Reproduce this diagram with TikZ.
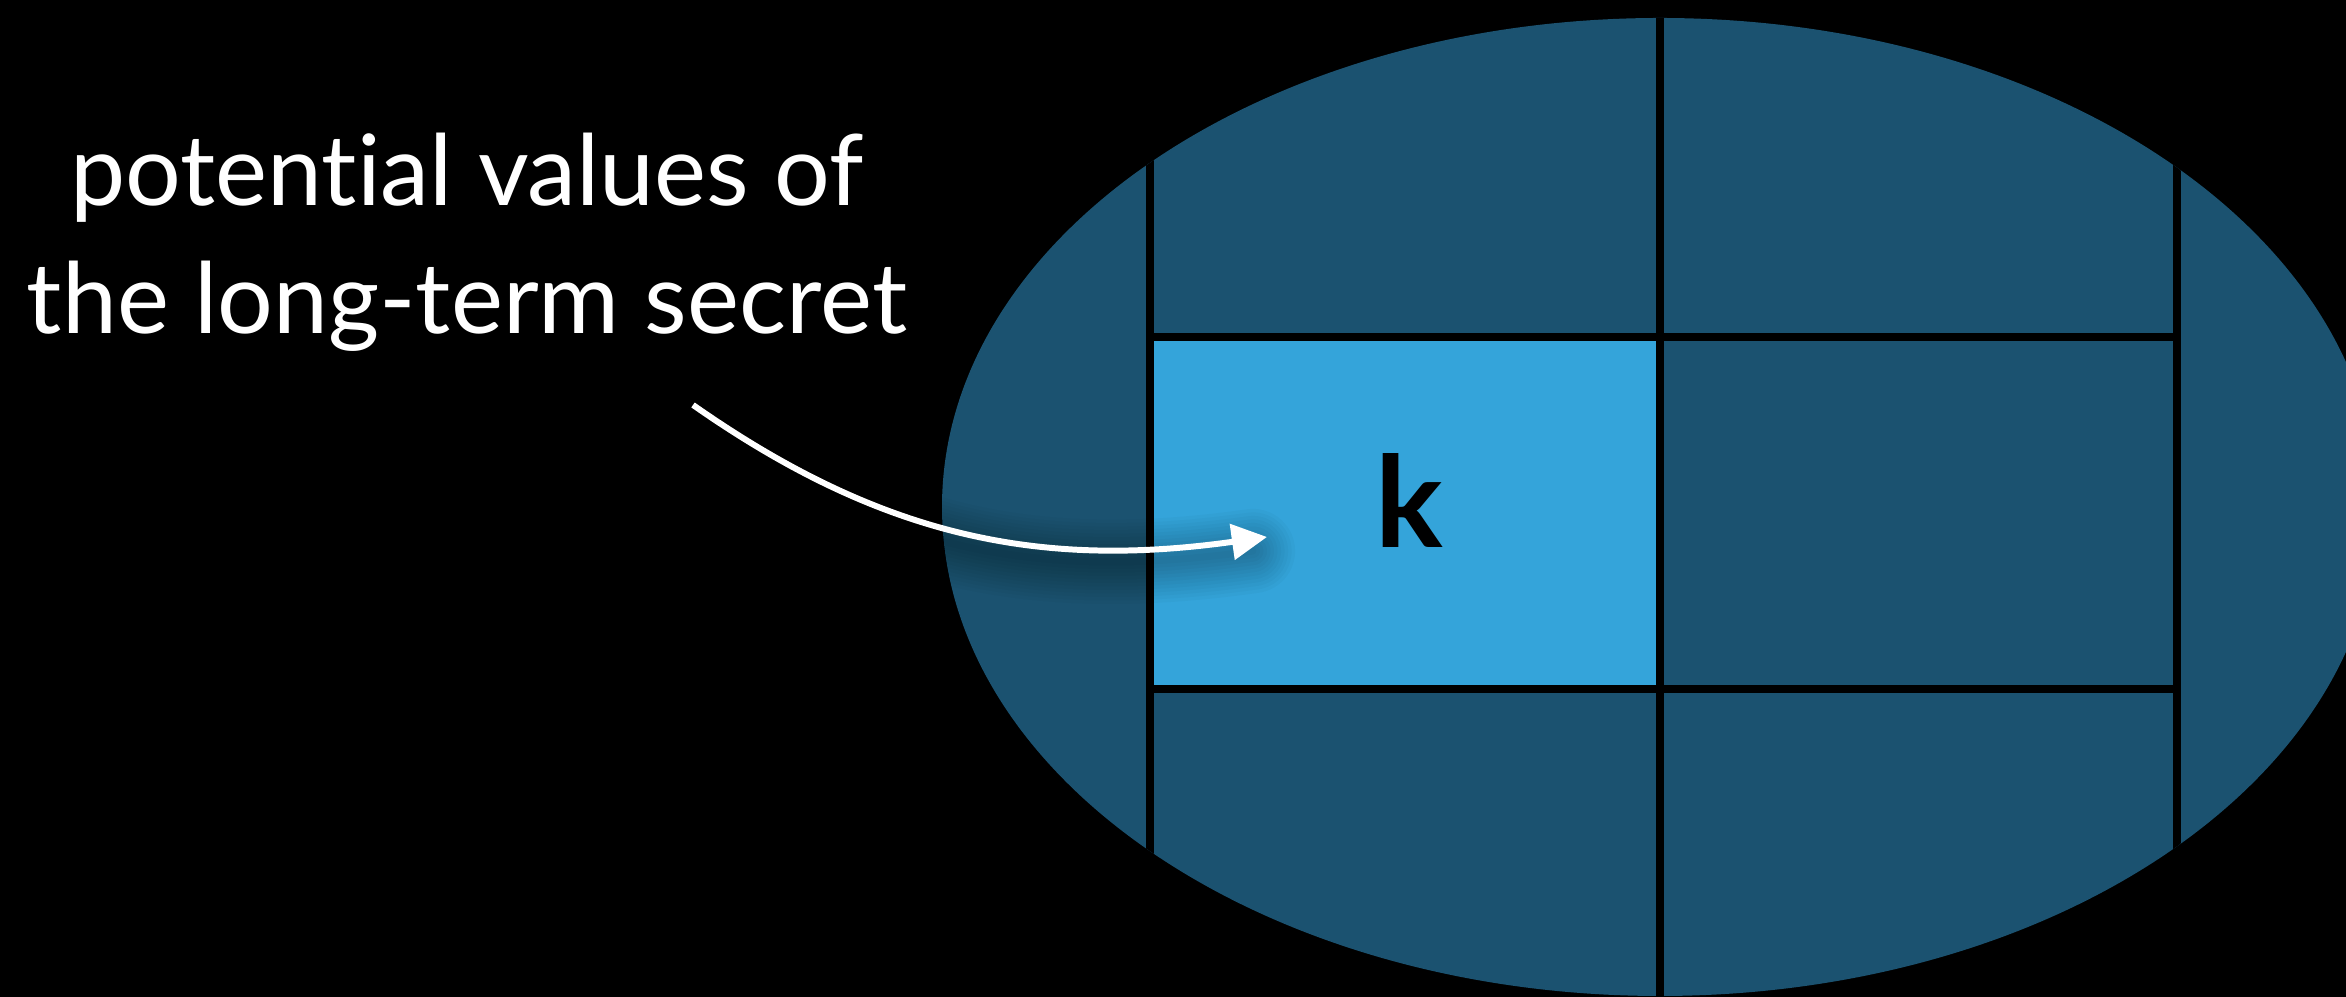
\documentclass[tikz,border=0pt]{standalone}
\usepackage{fontspec}
\setmainfont{Lato}[Ligatures=NoCommon]
\usetikzlibrary{arrows.meta}
\definecolor{setblue}{HTML}{1B5270}
\definecolor{keyblue}{HTML}{34A4DA}

\begin{document}
\begin{tikzpicture}[
    gridline/.style={line width=0.08cm, black},
    pointer/.style={white, line width=1.7pt, -{Triangle[length=10pt, width=10pt]}},
  ]
  \fill[black] (0,0) rectangle (23.46,9.97);
  \useasboundingbox (0,0) rectangle (23.46,9.97);
  % the set of all values
  \fill[setblue] (16.60,4.90) ellipse [x radius=7.18, y radius=4.89];
  % the cell that holds k
  \node[fill=keyblue, inner sep=0, minimum width=5.10cm, minimum height=3.52cm] (kcell) at (14.05,4.84) {};
  \node[font=\bfseries\fontsize{36}{36}\selectfont] (k) at (14.09,4.96) {k};
  \begin{scope}
    \clip (16.60,4.90) ellipse [x radius=7.18, y radius=4.89];
    \foreach \x in {11.50,16.60,21.77}
      \draw[gridline] (\x,0) -- (\x,9.97);
  \end{scope}
  \foreach \y in {3.08,6.60}
    \draw[gridline] (11.50,\y) -- (21.77,\y);
  \node[white, align=center, font=\fontsize{28}{36.4}\selectfont] (caption) at (4.67,7.55) {potential values of\\the long-term secret};
  \coordinate (src) at (6.93,5.92);
  \coordinate (tip) at (12.67,4.60);
  % soft shadow under the arrow
  \foreach \w in {2,4,...,24}
    \draw[black, opacity=0.025, line width=\w pt, line cap=round]
      ([yshift=-4pt]src) to[out=-35, in=188] ([xshift=-4pt, yshift=-4pt]tip);
  \draw[pointer] (src) to[out=-35, in=188] (tip);
\end{tikzpicture}
\end{document}
